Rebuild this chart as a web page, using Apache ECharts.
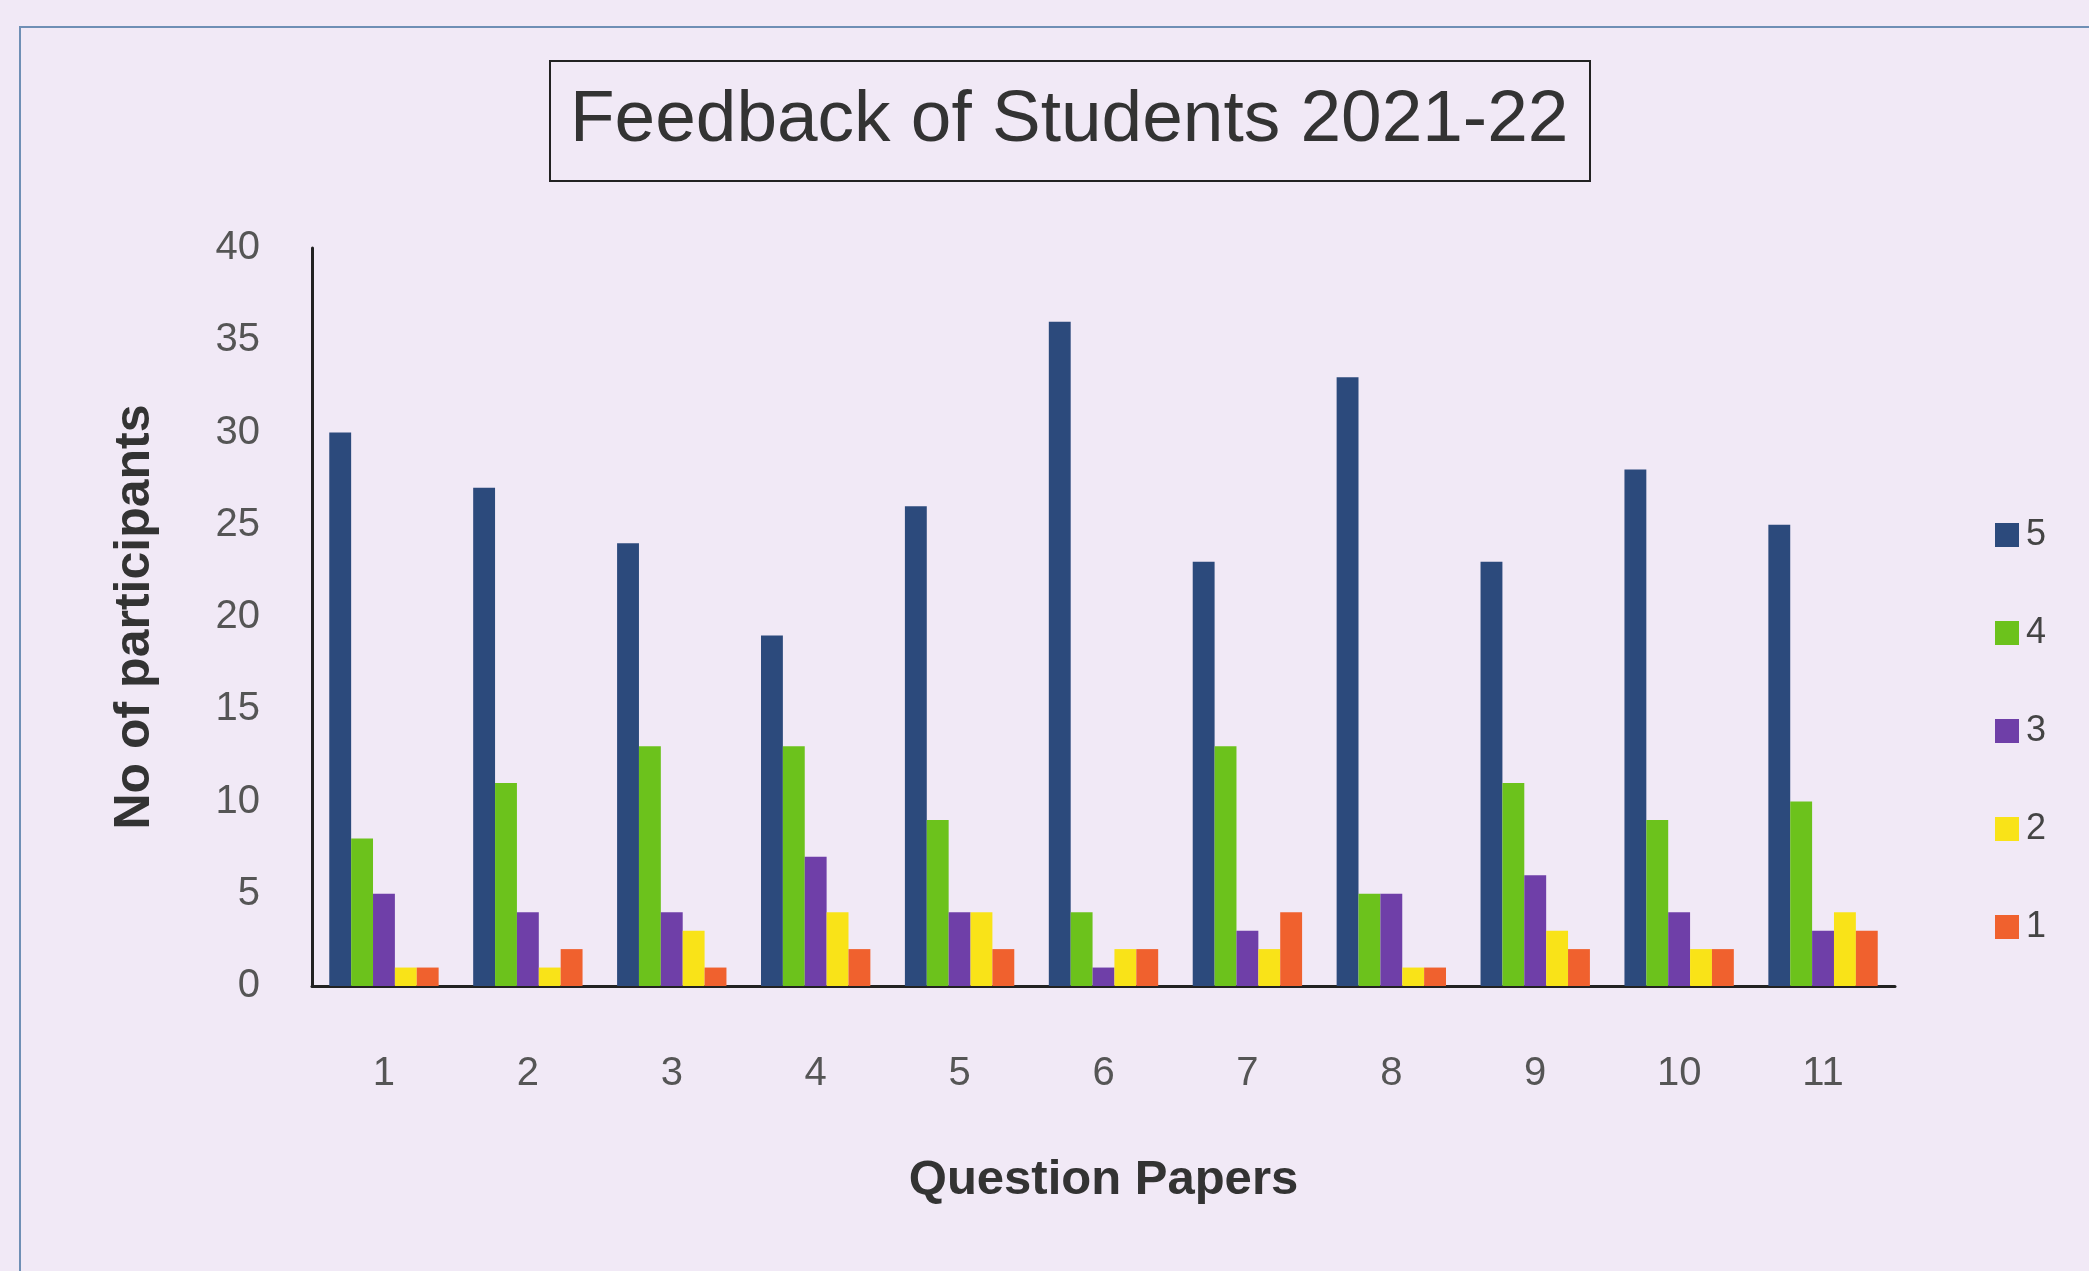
<!DOCTYPE html>
<html>
<head>
<meta charset="utf-8">
<script src="https://cdn.jsdelivr.net/npm/echarts@6/dist/echarts.min.js"></script>
<style>
  html, body { margin: 0; padding: 0; background: #f1e9f6; }
  #chart { width: 2089px; height: 1271px; }
</style>
</head>
<body>
<div id="chart"></div>
<script>
// question papers on the x axis
const papers = ['1', '2', '3', '4', '5', '6', '7', '8', '9', '10', '11'];
// rating series (5 = best)
const rating5 = [30, 27, 24, 19, 26, 36, 23, 33, 23, 28, 25];
const rating4 = [8, 11, 13, 13, 9, 4, 13, 5, 11, 9, 10];
const rating3 = [5, 4, 4, 7, 4, 1, 3, 5, 6, 4, 3];
const rating2 = [1, 1, 3, 4, 4, 2, 2, 1, 3, 2, 4];
const rating1 = [1, 2, 1, 2, 2, 2, 4, 1, 2, 2, 3];
const yTicks = [0, 5, 10, 15, 20, 25, 30, 35, 40];

const colors = ['#2c4a7c', '#6cc21c', '#6f3fa8', '#f9e318', '#f0612e'];
const font = 'Liberation Sans, Arial, sans-serif';

const chart = echarts.init(document.getElementById('chart'));

function bar(name, data) {
    return { name: name, type: 'bar', data: data, barGap: '0%', barCategoryGap: '24%' };
}

chart.setOption({
    backgroundColor: '#f1e9f6',
    color: colors,
    title: {
        text: 'Feedback of Students 2021-22',
        left: 550,
        top: 61,
        padding: [21, 22, 21, 20],
        borderColor: '#222',
        borderWidth: 2,
        textStyle: {
            fontFamily: font,
            fontWeight: 'normal',
            fontSize: 73,
            lineHeight: 78,
            color: '#333'
        }
    },
    legend: {
        orient: 'vertical',
        left: 1990,
        top: 512,
        itemWidth: 24,
        itemHeight: 24,
        itemGap: 62,
        icon: 'rect',
        textStyle: { fontFamily: font, fontSize: 36, color: '#444', padding: [0, 0, 0, 2] },
        data: ['5', '4', '3', '2', '1']
    },
    graphic: [{
        type: 'polyline',
        shape: { points: [[20, 1271], [20, 27], [2089, 27]] },
        style: { stroke: '#6f8fb5', lineWidth: 2, fill: null }
    }],
    grid: { left: 312, top: 248, width: 1583, height: 738 },
    xAxis: {
        type: 'category',
        data: papers,
        name: 'Question Papers',
        nameLocation: 'middle',
        nameGap: 170,
        nameTextStyle: { fontFamily: font, fontWeight: 'bold', fontSize: 49, color: '#333' },
        axisLine: { lineStyle: { color: '#222', width: 3 } },
        axisTick: { show: false },
        axisLabel: { fontFamily: font, fontSize: 40, color: '#555', margin: 68 }
    },
    yAxis: {
        type: 'value',
        min: yTicks[0],
        max: yTicks[yTicks.length - 1],
        interval: 5,
        name: 'No of participants',
        nameLocation: 'middle',
        nameGap: 152,
        nameTextStyle: { fontFamily: font, fontWeight: 'bold', fontSize: 50, color: '#333' },
        axisLine: { show: true, lineStyle: { color: '#222', width: 3 } },
        axisTick: { show: false },
        splitLine: { show: false },
        axisLabel: { fontFamily: font, fontSize: 40, color: '#555', margin: 52 }
    },
    series: [
        bar('5', rating5),
        bar('4', rating4),
        bar('3', rating3),
        bar('2', rating2),
        bar('1', rating1)
    ]
});
</script>
</body>
</html>
